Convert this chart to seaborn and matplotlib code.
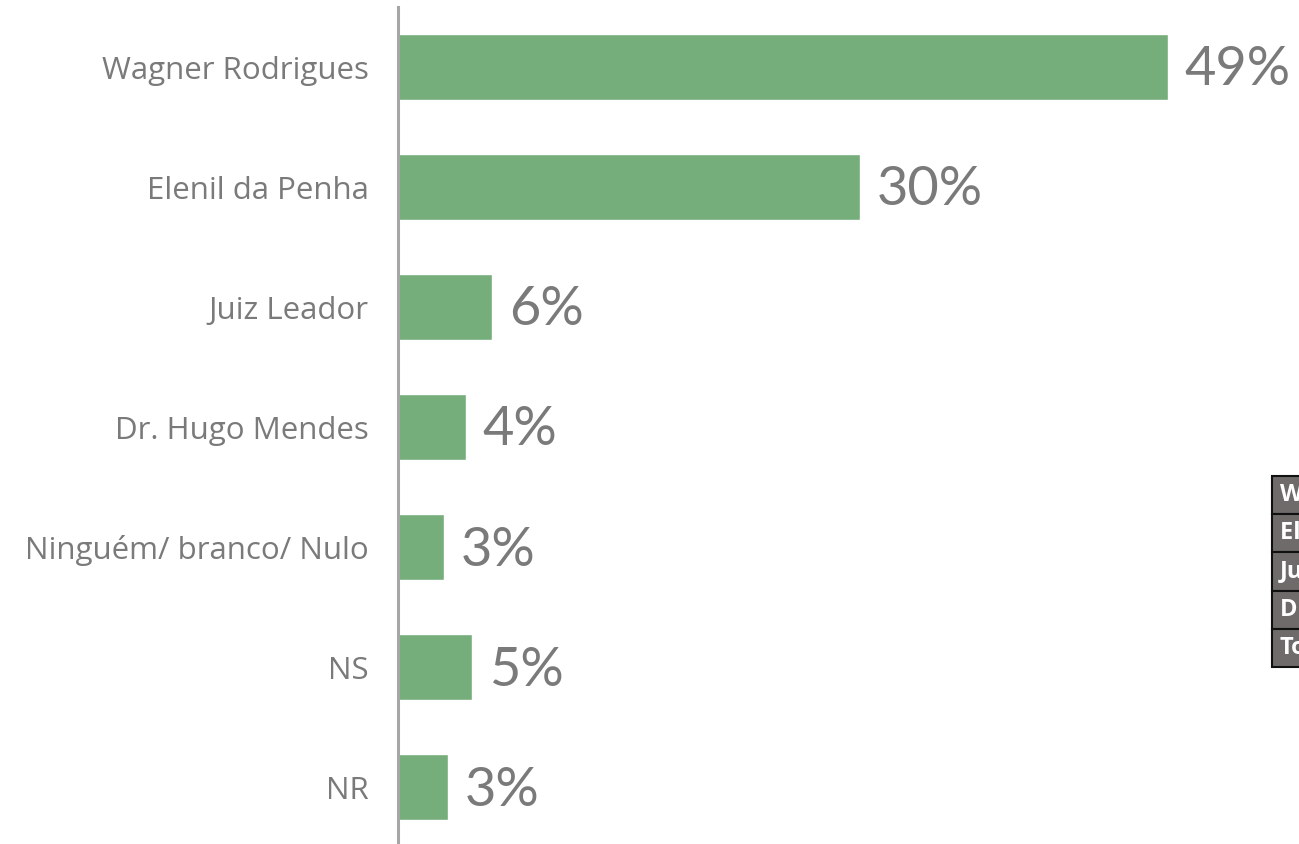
import matplotlib
matplotlib.use("Agg")
import matplotlib.pyplot as plt
import seaborn as sns
import pandas as pd

categories = ["Wagner Rodrigues", "Elenil da Penha", "Juiz Leador", "Dr. Hugo Mendes",
              "Ninguém/ branco/ Nulo", "NS", "NR"]
values = [49.0, 29.4, 6.0, 4.3, 2.9, 4.7, 3.2]
labels = ["49%", "30%", "6%", "4%", "3%", "5%", "3%"]
table_rows = ["Wagner Rodrigues", "Elenil da Penha", "Juiz Leador", "Dr. Hugo Mendes", "Total"]

sns.set_theme(style="white")
plt.rcParams['font.family'] = ['Open Sans', 'DejaVu Sans']

df = pd.DataFrame({"cat": categories, "val": values})

fig = plt.figure(figsize=(12.99, 8.44), dpi=100)
left = 398 / 1299
ax = fig.add_axes([left, -0.004, 1 - left, 0.9957])
sns.barplot(data=df, x="val", y="cat", color="#75ae7a", saturation=1, width=0.55, ax=ax, orient="h")
ax.set_xlim(0, (1299 - 398) / (770 / 49))
ax.set_ylim(6.5, -0.5)
ax.set_xlabel("")
ax.set_ylabel("")
ax.set_xticks([])
for s in ["top", "right", "bottom"]:
    ax.spines[s].set_visible(False)
ax.spines["left"].set_color("#a6a6a6")
ax.spines["left"].set_linewidth(2.2)
ax.tick_params(axis="y", length=0, pad=21, labelsize=22.5, labelcolor="#7a7a7a")
for lab in ax.get_yticklabels():
    lab.set_fontfamily(['Open Sans', 'DejaVu Sans'])

for i, (v, t) in enumerate(zip(values, labels)):
    ax.annotate(t, xy=(v, i), xytext=(12, -2), textcoords="offset points",
                va="center", ha="left", fontsize=39, color="#7a7a7a",
                family=['Lato', 'DejaVu Sans'])

# partially visible table on the right
tax = fig.add_axes([1272 / 1299, (844 - 667) / 844, 0.2, 191 / 844])
tax.axis("off")
tbl = tax.table(cellText=[[r] for r in table_rows], loc="center", cellLoc="left",
                bbox=[0, 0, 1, 1])
tbl.auto_set_font_size(False)
for (r, c), cell in tbl.get_celld().items():
    cell.set_facecolor("#6f6b6b")
    cell.set_edgecolor("#111111")
    cell.set_linewidth(1.5)
    cell.get_text().set_color("white")
    cell.get_text().set_fontweight("bold")
    cell.get_text().set_fontsize(17)
    cell.PAD = 0.03

fig.savefig("out.png", dpi=100)
